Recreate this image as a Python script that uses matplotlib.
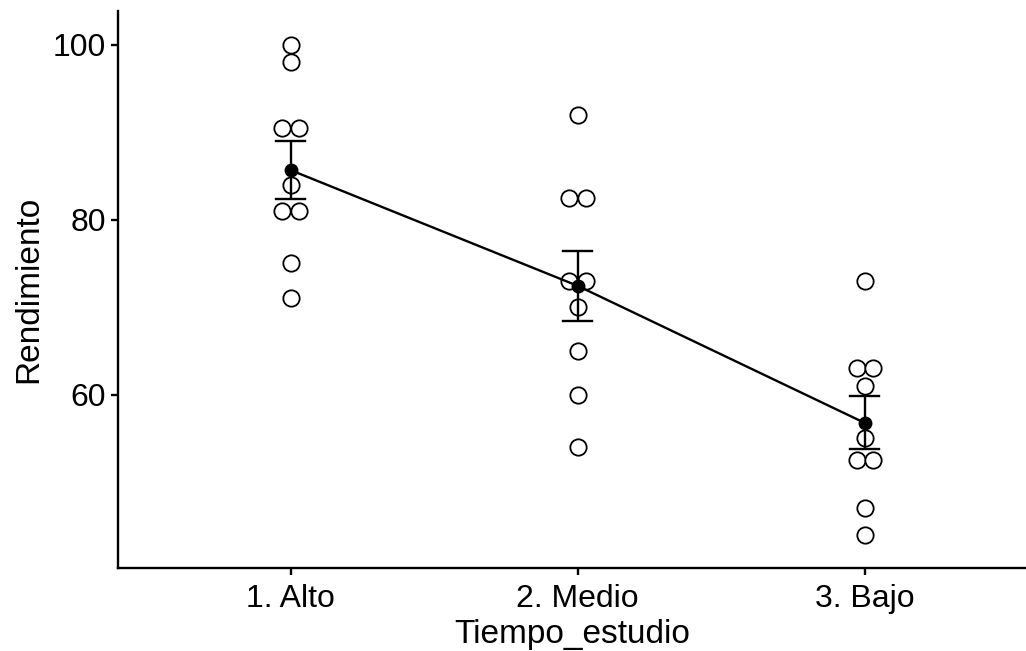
import numpy as np
import matplotlib
matplotlib.use("Agg")
import matplotlib.pyplot as plt

plt.rcParams['font.family'] = ['Liberation Sans', 'DejaVu Sans']

# Rendimiento por nivel de tiempo de estudio
categories = ["1. Alto", "2. Medio", "3. Bajo"]
alto = [100, 98, 90.5, 90.5, 84, 81, 81, 75, 71]
medio = [92, 82.5, 82.5, 73, 73, 70, 65, 60, 54]
bajo = [73, 63, 63, 61, 55, 52.5, 52.5, 47, 44]
groups = [alto, medio, bajo]

yticks = [60, 80, 100]
xlabel = "Tiempo_estudio"
ylabel = "Rendimiento"

W, H, DPI = 1026, 651, 100
fig = plt.figure(figsize=(W / DPI, H / DPI), dpi=DPI)
left, right, bottom, top = 118.3, 1026, 568.3, 11
ax = fig.add_axes([left / W, (H - bottom) / H, (right - left) / W, (bottom - top) / H])

ylim = (40.16, 103.85)
xlim = (0.4, 3.562)
ax.set_xlim(*xlim)
ax.set_ylim(*ylim)

# dot size follows the dotplot bin width (range / 30)
allv = np.concatenate(groups)
binwidth = (allv.max() - allv.min()) / 30
px_per_y = (bottom - top) / (ylim[1] - ylim[0])
px_per_x = (right - left) / (xlim[1] - xlim[0])
dot_px = binwidth * px_per_y
dot_pt = dot_px * 72 / DPI
dx = dot_px / px_per_x

for i, vals in enumerate(groups):
    xc = i + 1
    vals = np.asarray(vals, dtype=float)
    for v in np.unique(vals):
        n = int(np.sum(vals == v))
        offs = (np.arange(n) - (n - 1) / 2) * dx
        ax.plot(xc + offs, [v] * n, linestyle="none", marker="o",
                markersize=dot_pt, markerfacecolor="white",
                markeredgecolor="black", markeredgewidth=1.3, zorder=2)

means = np.array([np.mean(g) for g in groups])
ses = np.array([np.std(g, ddof=1) / np.sqrt(len(g)) for g in groups])
xs = np.arange(1, len(groups) + 1)

lw = 1.7
ax.plot(xs, means, color="black", linewidth=lw, zorder=3)
ax.errorbar(xs, means, yerr=ses, fmt="none", ecolor="black", elinewidth=lw,
            capsize=0, zorder=3)
cap_w = 0.05
for x, m, s in zip(xs, means, ses):
    for yy in (m - s, m + s):
        ax.plot([x - cap_w, x + cap_w], [yy, yy], color="black", linewidth=lw, zorder=3)
ax.plot(xs, means, linestyle="none", marker="o", markersize=9,
        color="black", zorder=4)

ax.set_xticks(xs)
ax.set_xticklabels(categories)
ax.set_yticks(yticks)
for side in ("top", "right"):
    ax.spines[side].set_visible(False)
for side in ("left", "bottom"):
    ax.spines[side].set_linewidth(1.7)
ax.tick_params(axis="both", length=5, width=1.7, labelsize=23, colors="black", pad=4)
ax.tick_params(axis="x", pad=6)
ax.set_xlabel(xlabel, fontsize=24, labelpad=4)
ax.set_ylabel(ylabel, fontsize=24, labelpad=6)

fig.savefig("out.png", dpi=DPI)
